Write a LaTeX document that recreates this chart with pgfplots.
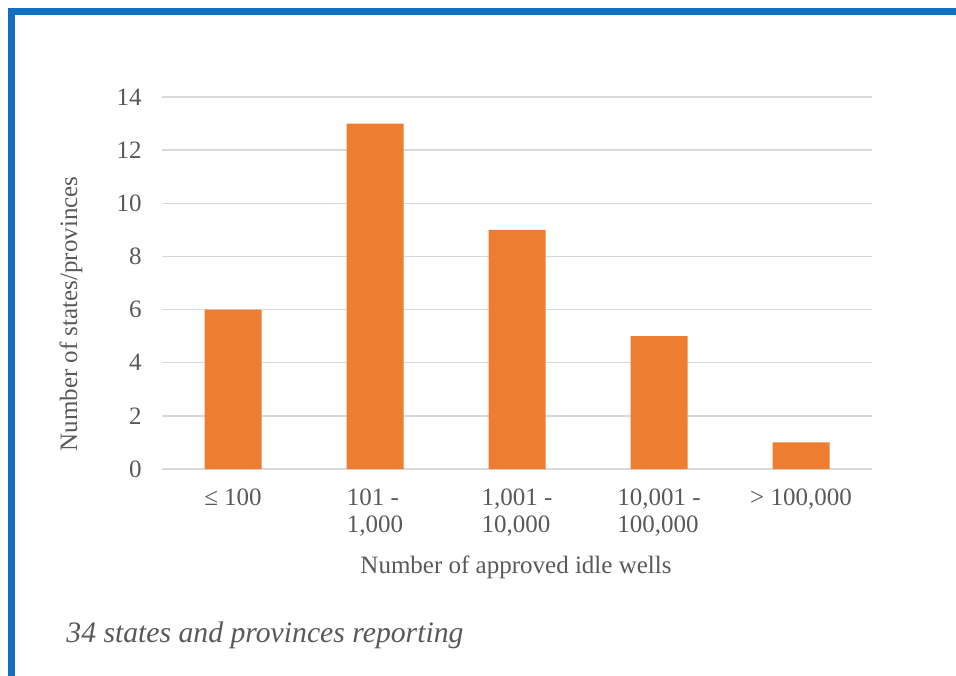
\documentclass[border=0pt]{standalone}
\usepackage{fontspec}
\setmainfont{Liberation Serif}
\usepackage{pgfplots}
\pgfplotsset{compat=1.18}
\definecolor{frameblue}{RGB}{19,112,190}
\definecolor{barorange}{RGB}{237,125,49}
\definecolor{txtgray}{RGB}{89,89,89}
\definecolor{gridgray}{RGB}{217,217,217}
\begin{document}
\begin{tikzpicture}
\useasboundingbox (0,0) rectangle (478pt,337.5pt);
\draw[frameblue, line width=3.5pt] (5.75pt,-3pt) -- (5.75pt,331.5pt) -- (480pt,331.5pt);
\begin{axis}[
  at={(81pt,103pt)}, anchor=south west,
  scale only axis, width=355pt, height=186pt,
  xmin=-0.5, xmax=4.5, ymin=0, ymax=14,
  ytick={0,2,...,14},
  xtick={0,1,2,3,4},
  xticklabels={{≤ 100},{101 -\\1,000},{1,001 -\\10,000},{10,001 -\\100,000},{> 100,000}},
  axis line style={draw=none},
  axis x line*=bottom,
  x axis line style={draw=gridgray, line width=0.75pt},
  major tick length=0pt,
  ymajorgrids, grid style={gridgray, line width=0.75pt},
  yticklabel style={font=\fontsize{12.5}{14}\selectfont, text=txtgray, inner sep=0pt, xshift=-10pt},
  xticklabel style={font=\fontsize{12.5}{13.6}\selectfont, text=txtgray, align=left, inner sep=0pt, yshift=-9.5pt, anchor=north},
  /pgf/number format/assume math mode=true,
  clip=false,
]
\addplot[ybar, bar width=28.5pt, fill=barorange, draw=none] coordinates {(0,6) (1,13) (2,9) (3,5) (4,1)};
\end{axis}
\node[text=txtgray, font=\fontsize{12.5}{14}\selectfont, anchor=base] at (258pt,51pt) {Number of approved idle wells};
\node[text=txtgray, font=\fontsize{12.5}{14}\selectfont, rotate=90] at (35.5pt,180.5pt) {Number of states/provinces};
\node[text=txtgray, font=\fontsize{14.85}{17}\selectfont\itshape, anchor=base west, inner sep=0pt] at (33pt,16.5pt) {34 states and provinces reporting};
\end{tikzpicture}
\end{document}
